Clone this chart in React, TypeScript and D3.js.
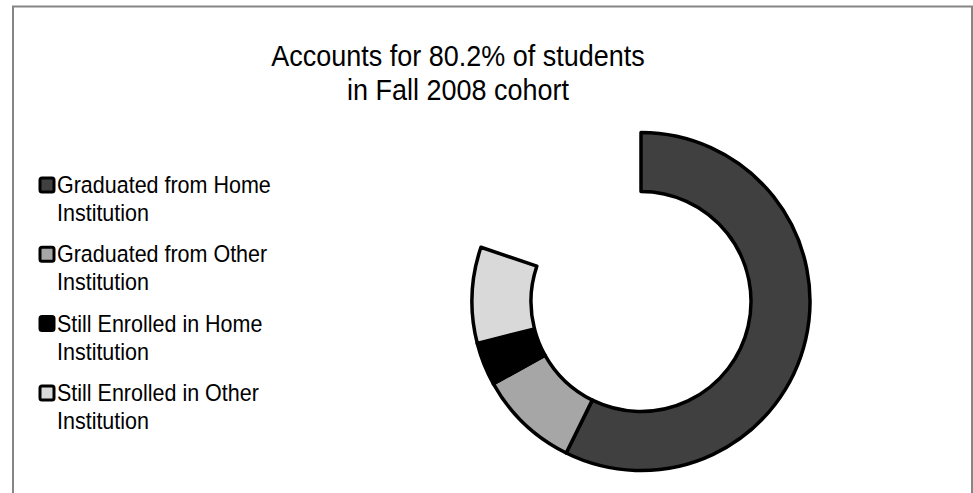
import * as d3 from "d3";

const categories = [
  "Graduated from Home Institution",
  "Graduated from Other Institution",
  "Still Enrolled in Home Institution",
  "Still Enrolled in Other Institution",
];
const legendLines = [
  ["Graduated from Home", "Institution"],
  ["Graduated from Other", "Institution"],
  ["Still Enrolled in Home", "Institution"],
  ["Still Enrolled in Other", "Institution"],
];
const shares = [57.3, 9.6, 4.1, 9.2];
const colors = ["#404040", "#a6a6a6", "#000000", "#d9d9d9"];
const titleLines = ["Accounts for 80.2% of students", "in Fall 2008 cohort"];

const W = 973;
const H = 493;
const font = "'Liberation Sans', Arial, sans-serif";

export default function App() {
  const total = d3.sum(shares);
  const pie = d3
    .pie<number>()
    .sort(null)
    .value((d) => d)
    .startAngle(0)
    .endAngle((2 * Math.PI * total) / 100);
  const arcs = pie(shares);
  const arc = d3.arc<d3.PieArcDatum<number>>().innerRadius(110).outerRadius(169);

  const cx = 641;
  const cy = 301.5;

  return (
    <svg
      width={W}
      height={H}
      style={{ position: "absolute", left: 0, top: 0, background: "#fff" }}
    >
      <rect x={13} y={6.5} width={959} height={520} fill="#fff" stroke="#868686" strokeWidth={2} />
      <g fontFamily={font} fill="#000" textAnchor="middle" fontSize={27}>
        {titleLines.map((t, i) => (
          <text key={i} transform={`translate(458,${66 + i * 34}) scale(1,1.12)`}>
            {t}
          </text>
        ))}
      </g>
      <g transform={`translate(${cx},${cy})`}>
        {arcs.map((a, i) => (
          <path
            key={categories[i]}
            d={arc(a) || ""}
            fill={colors[i]}
            stroke="#000"
            strokeWidth={3.5}
            strokeLinejoin="round"
          />
        ))}
      </g>
      <g fontFamily={font} fontSize={21.5}>
        {legendLines.map((lines, i) => {
          const y = 185 + i * 69.3;
          return (
            <g key={i}>
              <rect
                x={40}
                y={y - 7}
                width={14}
                height={14}
                rx={2}
                fill={colors[i]}
                stroke="#000"
                strokeWidth={3}
              />
              {lines.map((l, j) => (
                <text key={j} transform={`translate(57,${y + 8 + j * 28}) scale(1,1.08)`}>
                  {l}
                </text>
              ))}
            </g>
          );
        })}
      </g>
    </svg>
  );
}
